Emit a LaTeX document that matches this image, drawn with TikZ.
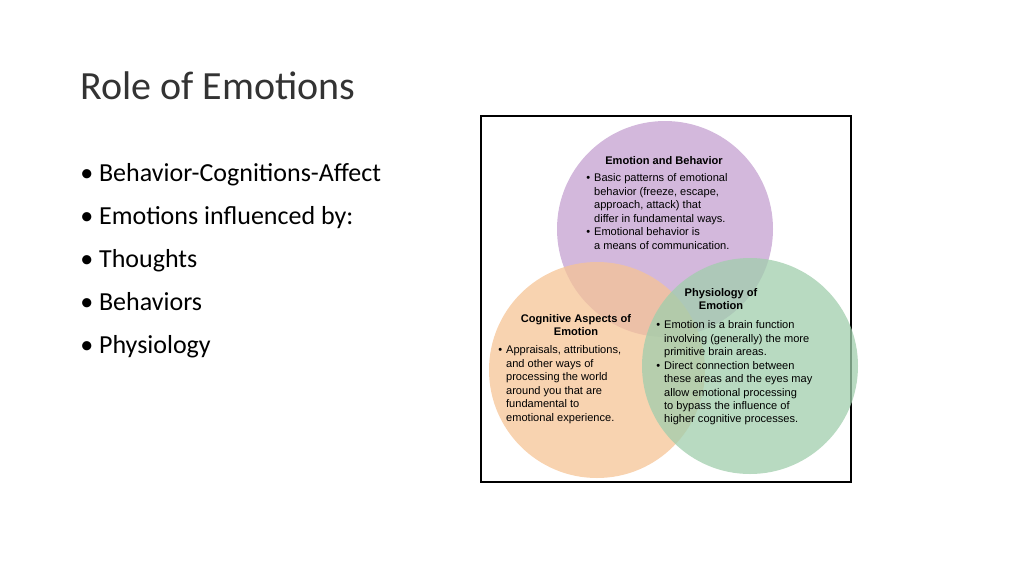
\documentclass[tikz,border=0pt]{standalone}
\usepackage{fontspec}
\setmainfont{Carlito}
\newfontfamily\arialf{Liberation Sans}
\begin{document}
\begin{tikzpicture}[x=0.75pt,y=-0.75pt,
  circ/.style={fill opacity=0.75,draw=none},
  head/.style={font=\arialf\fontsize{8.3}{10.1}\selectfont\bfseries,align=center,inner sep=0},
  lst/.style={font=\arialf\fontsize{8.3}{10.1}\selectfont,anchor=north west,inner sep=0},
  bul/.style={font=\fontsize{19.5}{24}\selectfont,anchor=base west,inner sep=0}]
\useasboundingbox (0,0) rectangle (1024,576);
\node[font=\fontsize{30}{36}\selectfont,anchor=base west,inner sep=0,text=black!80] (title) at (80,99) {Role of Emotions};
\node[bul] (b1) at (80,181) {• Behavior-Cognitions-Affect};
\node[bul] (b2) at (80,224) {• Emotions influenced by:};
\node[bul] (b3) at (80,267) {• Thoughts};
\node[bul] (b4) at (80,310) {• Behaviors};
\node[bul] (b5) at (80,353) {• Physiology};
\draw[black,line width=0.9pt] (481,116) rectangle (851,482);
\fill[circ,fill={rgb,255:red,196;green,160;blue,208}] (665,229) circle (108);
\fill[circ,fill={rgb,255:red,246;green,196;blue,150}] (597,370) circle (108);
\fill[circ,fill={rgb,255:red,160;green,206;blue,172}] (750,366) circle (108);
\node[head] (h1) at (664,161) {Emotion and Behavior};
\node[lst] (l1) at (586,172) {\begin{tabular}{@{}l@{\hspace{3pt}}l@{}}
•&Basic patterns of emotional\\&behavior (freeze, escape,\\&approach, attack) that\\&differ in fundamental ways.\\
•&Emotional behavior is\\&a means of communication.\end{tabular}};
\node[head] (h2) at (721,299) {Physiology of\\Emotion};
\node[lst] (l2) at (656,319) {\begin{tabular}{@{}l@{\hspace{3pt}}l@{}}
•&Emotion is a brain function\\&involving (generally) the more\\&primitive brain areas.\\
•&Direct connection between\\&these areas and the eyes may\\&allow emotional processing\\&to bypass the influence of\\&higher cognitive processes.\end{tabular}};
\node[head] (h3) at (576,325) {Cognitive Aspects of\\Emotion};
\node[lst] (l3) at (498,344) {\begin{tabular}{@{}l@{\hspace{3pt}}l@{}}
•&Appraisals, attributions,\\&and other ways of\\&processing the world\\&around you that are\\&fundamental to\\&emotional experience.\end{tabular}};
\end{tikzpicture}
\end{document}
